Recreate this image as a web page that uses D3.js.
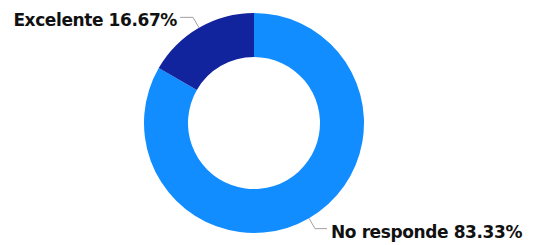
<!DOCTYPE html>
<html>
<head>
<meta charset="utf-8">
<script src="https://cdn.jsdelivr.net/npm/d3@7"></script>
<style>
	body{margin:0;background:#fff;}
	.label{font-family:"DejaVu Sans",sans-serif;font-weight:bold;font-size:17px;letter-spacing:-0.4px;fill:#111;}
	.leader{fill:none;stroke:#a0a0a0;stroke-width:1;}
</style>
</head>
<body>
<div id="plot"></div>
<script>
// data
var categories = ['No responde','Excelente'],
	values = [83.33,16.67],
	labels = ['No responde 83.33%','Excelente 16.67%'];

var W = 536, H = 245,
	cx = 254, cy = 123,
	R = 110, r = 66;

var svg = d3.select('#plot')
	.append('svg')
	.attr('width',W)
	.attr('height',H);

var color = d3.scaleOrdinal()
	.domain(categories)
	.range(['#118DFF','#12239E']);

var pie = d3.pie()
	.sort(null)
	.value(function(d){return d.value});

var arcs = pie(categories.map(function(c,i){
	return {name:c, value:values[i], label:labels[i]};
}));

var arc = d3.arc().innerRadius(r).outerRadius(R);

var g = svg.append('g')
	.attr('transform','translate('+cx+','+cy+')');

g.selectAll('.slice')
	.data(arcs)
	.enter()
	.append('path').attr('class','slice')
	.attr('d',arc)
	.style('fill',function(d){return color(d.data.name)});

//leader lines + labels
function polar(a,rad){ return [Math.sin(a)*rad, -Math.cos(a)*rad]; }

arcs.forEach(function(d){
	var mid = (d.startAngle+d.endAngle)/2,
		p0 = polar(mid,R),
		p1 = polar(mid,R+12),
		right = Math.sin(mid) > 0,
		p2 = [p1[0] + (right ? 12 : -13), p1[1]];

	g.append('path').attr('class','leader')
		.attr('d', d3.line()([p0,p1,p2]));

	g.append('text').attr('class','label')
		.attr('x', p2[0] + (right ? 4 : -3))
		.attr('y', p2[1] + 9)
		.attr('text-anchor', right ? 'start' : 'end')
		.text(d.data.label);
});
</script>
</body>
</html>
